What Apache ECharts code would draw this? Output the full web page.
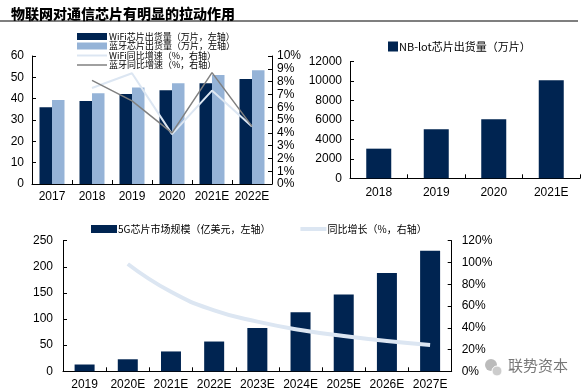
<!DOCTYPE html>
<html>
<head>
<meta charset="utf-8">
<script src="https://cdn.jsdelivr.net/npm/echarts@6/dist/echarts.min.js"></script>
<style>
html,body{margin:0;padding:0;background:#fff;}
#c{width:582px;height:392px;}
</style>
</head>
<body>
<div id="c"></div>
<script>
// ---- data ----
const titleText = '物联网对通信芯片有明显的拉动作用';

const catsA = ['2017', '2018', '2019', '2020', '2021E', '2022E'];
const wifiShip = [36, 38.9, 42.2, 43.9, 47.2, 49.2];
const btShip = [39.4, 42.5, 45.2, 47.2, 51.1, 53.3];
const wifiGrowth = [null, 7.5, 8.65, 3.9, 7.3, 4.5];
const btGrowth = [null, 8.1, 6.5, 4.0, 8.7, 4.5];
const namesA = ['WiFi芯片出货量（万片，左轴）', '蓝牙芯片出货量（万片，左轴）', 'WiFi同比增速（%，右轴）', '蓝牙同比增速（%，右轴）'];

const catsB = ['2018', '2019', '2020', '2021E'];
const nbShip = [3050, 5050, 6070, 10100];
const nameB = 'NB-lot芯片出货量（万片）';

const catsC = ['2019', '2020E', '2021E', '2022E', '2023E', '2024E', '2025E', '2026E', '2027E'];
const market5g = [13, 23, 38, 57, 83, 113, 147, 188, 231];
const growth5g = [null, 98.6, 73, 56, 45.6, 38, 32.4, 27.8, 24.2];
const namesC = ['5G芯片市场规模（亿美元，左轴）', '同比增长（%，右轴）'];

const watermark = '联势资本';

// ---- styles ----
const NAVY = '#002451';
const LBLUE = '#95b3d7';
const PALE = '#dce6f2';
const GRAY = '#808080';
const numFont = 'Liberation Sans, Arial, sans-serif';
const cjkFont = 'Noto Sans CJK SC, sans-serif';

const axisLine = {show: true, lineStyle: {color: '#000', width: 1}};
const tickIn = {show: true, inside: true, length: 4, lineStyle: {color: '#000'}};
const lab = {color: '#000', fontFamily: numFont, fontSize: 12, interval: 0};
const plain = v => String(v);

const chart = echarts.init(document.getElementById('c'), null, {renderer: 'canvas'});

chart.setOption({
  animation: false,
  backgroundColor: '#fff',
  title: {
    text: titleText, left: 6, top: 2,
    textStyle: {fontFamily: cjkFont, fontSize: 14, fontWeight: 900, color: '#000'}
  },
  graphic: [
    {type: 'line', shape: {x1: 0, y1: 21, x2: 578, y2: 21}, style: {stroke: '#555', lineWidth: 1.5}},
    {type: 'circle', shape: {cx: 491, cy: 365, r: 6}, style: {fill: '#bbb'}},
    {type: 'circle', shape: {cx: 497, cy: 371, r: 5}, style: {fill: '#ccc', stroke: '#fff', lineWidth: 1}},
    {type: 'text', left: 507, top: 357, style: {text: watermark, fill: '#777', font: '15px ' + cjkFont, stroke: '#fff', lineWidth: 2}}
  ],
  legend: [
    {
      left: 72, top: 27, orient: 'vertical', itemGap: 0.5,
      itemWidth: 30, itemHeight: 7,
      data: [
        {name: namesA[0], icon: 'rect'},
        {name: namesA[1], icon: 'rect'},
        {name: namesA[2], icon: 'path://M0,0L30,0L30,2L0,2Z'},
        {name: namesA[3], icon: 'path://M0,0L30,0L30,1.5L0,1.5Z'}
      ],
      textStyle: {fontFamily: cjkFont, fontSize: 9, lineHeight: 9, color: '#000', padding: [0, 0, 0, -3]}
    },
    {
      left: 383, top: 36, itemWidth: 10, itemHeight: 10, icon: 'rect',
      data: [nameB],
      textStyle: {fontFamily: cjkFont, fontSize: 11, color: '#000', padding: [0, 0, 0, -4]}
    },
    {
      left: 86, top: 219, itemWidth: 26, itemHeight: 8, itemGap: 30,
      data: [{name: namesC[0], icon: 'rect'}, {name: namesC[1], icon: 'path://M0,0L26,0L26,4L0,4Z'}],
      textStyle: {fontFamily: cjkFont, fontSize: 10, color: '#000', padding: [0, 0, 0, -4]}
    }
  ],
  grid: [
    {left: 32, right: 310, top: 56, bottom: 208},
    {left: 350, right: 2, top: 61.7, bottom: 213.7},
    {left: 63, right: 130.3, top: 240.7, bottom: 20.7}
  ],
  xAxis: [
    {type: 'category', gridIndex: 0, data: catsA, axisLine, axisTick: tickIn, axisLabel: Object.assign({}, lab, {margin: 7})},
    {type: 'category', gridIndex: 1, data: catsB, axisLine, axisTick: tickIn, axisLabel: Object.assign({}, lab, {margin: 8})},
    {type: 'category', gridIndex: 2, data: catsC, axisLine, axisTick: tickIn, axisLabel: Object.assign({}, lab, {margin: 7})}
  ],
  yAxis: [
    {type: 'value', gridIndex: 0, min: 0, max: 60, interval: 10, axisLine, axisTick: tickIn, splitLine: {show: false}, axisLabel: Object.assign({}, lab, {margin: 8, formatter: plain})},
    {type: 'value', gridIndex: 0, position: 'right', min: 0, max: 10, interval: 1, axisLine, axisTick: tickIn, splitLine: {show: false}, axisLabel: Object.assign({}, lab, {margin: 5, formatter: '{value}%'})},
    {type: 'value', gridIndex: 1, min: 0, max: 12000, interval: 2000, axisLine, axisTick: tickIn, splitLine: {show: false}, axisLabel: Object.assign({}, lab, {margin: 8, formatter: plain})},
    {type: 'value', gridIndex: 2, min: 0, max: 250, interval: 50, axisLine, axisTick: tickIn, splitLine: {show: false}, axisLabel: Object.assign({}, lab, {margin: 10, formatter: plain})},
    {type: 'value', gridIndex: 2, position: 'right', min: 0, max: 120, interval: 20, axisLine, axisTick: tickIn, splitLine: {show: false}, axisLabel: Object.assign({}, lab, {margin: 10, formatter: '{value}%'})}
  ],
  series: [
    {name: namesA[0], type: 'bar', xAxisIndex: 0, yAxisIndex: 0, data: wifiShip, barWidth: 12.5, barGap: '0%', itemStyle: {color: NAVY}},
    {name: namesA[1], type: 'bar', xAxisIndex: 0, yAxisIndex: 0, data: btShip, barWidth: 12.5, barGap: '0%', itemStyle: {color: LBLUE}},
    {name: namesA[2], type: 'line', xAxisIndex: 0, yAxisIndex: 1, data: wifiGrowth, symbol: 'none', lineStyle: {color: PALE, width: 2}, itemStyle: {color: PALE}, z: 5},
    {name: namesA[3], type: 'line', xAxisIndex: 0, yAxisIndex: 1, data: btGrowth, symbol: 'none', lineStyle: {color: GRAY, width: 1.5}, itemStyle: {color: GRAY}, z: 6},
    {name: nameB, type: 'bar', xAxisIndex: 1, yAxisIndex: 2, data: nbShip, barWidth: 25, itemStyle: {color: NAVY}},
    {name: namesC[0], type: 'bar', xAxisIndex: 2, yAxisIndex: 3, data: market5g, barWidth: 20, itemStyle: {color: NAVY}},
    {name: namesC[1], type: 'line', xAxisIndex: 2, yAxisIndex: 4, data: growth5g, symbol: 'none', smooth: true, lineStyle: {color: PALE, width: 4}, itemStyle: {color: PALE}, z: 5}
  ]
});
</script>
</body>
</html>
